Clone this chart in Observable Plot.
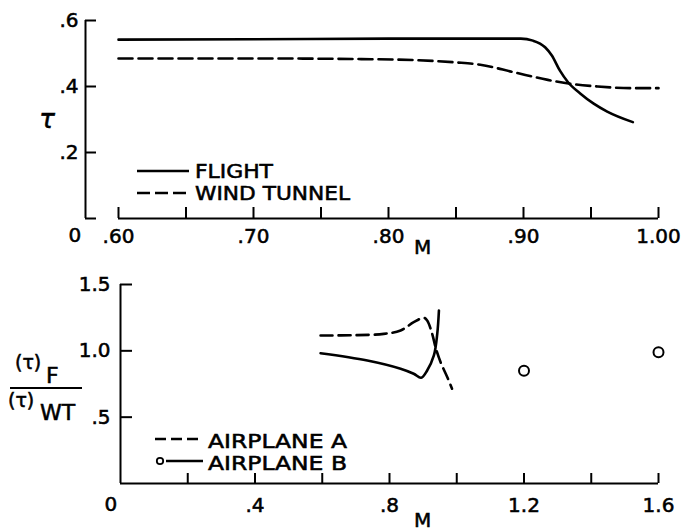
<!DOCTYPE html>
<html><head><meta charset="utf-8">
<script src="https://cdn.jsdelivr.net/npm/d3@7"></script>
<script src="https://cdn.jsdelivr.net/npm/@observablehq/plot@0.6"></script>
<style>
body{margin:0;background:#fff;}
#wrap{position:relative;width:685px;height:531px;overflow:hidden;background:#fff;font-family:"DejaVu Sans",sans-serif;}
#wrap svg{display:block;}
#wrap text{stroke:#000;stroke-width:0.55px;}
#overlay{position:absolute;left:0;top:0;pointer-events:none;}
</style></head><body><div id="wrap"></div>
<script>
// ---------- Top panel: tau vs M ----------
const topSeries = ["FLIGHT", "WIND TUNNEL"];
const flightM   = [0.60, 0.70, 0.80, 0.87, 0.898, 0.907, 0.916, 0.921, 0.927, 0.933, 0.942, 0.952, 0.962, 0.981];
const flightTau = [0.542, 0.543, 0.545, 0.545, 0.545, 0.539, 0.519, 0.494, 0.448, 0.413, 0.379, 0.348, 0.324, 0.292];
const tunnelM   = [0.60, 0.70, 0.78, 0.82, 0.85, 0.868, 0.893, 0.918, 0.935, 0.955, 0.979, 1.00];
const tunnelTau = [0.485, 0.485, 0.483, 0.480, 0.473, 0.466, 0.443, 0.420, 0.408, 0.400, 0.395, 0.395];
const topXTicks  = [0.60, 0.65, 0.70, 0.75, 0.80, 0.85, 0.90, 0.95, 1.00];
const topXLabels = [0.60, 0.70, 0.80, 0.90, 1.00];
const topYTicks  = [0, 0.2, 0.4, 0.6];
const topYLabels = [0.2, 0.4, 0.6];

// ---------- Bottom panel: (tau)F/(tau)WT vs M ----------
const botSeries = ["AIRPLANE A", "AIRPLANE B"];
const planeAM     = [0.595, 0.70, 0.783, 0.833, 0.872, 0.902, 0.912, 0.927, 0.937, 0.952, 0.972, 0.986];
const planeARatio = [1.116, 1.118, 1.128, 1.153, 1.216, 1.249, 1.229, 1.128, 1.027, 0.914, 0.801, 0.714];
const planeBM     = [0.595, 0.734, 0.833, 0.872, 0.894, 0.912, 0.932, 0.942, 0.947];
const planeBRatio = [0.982, 0.927, 0.865, 0.827, 0.797, 0.852, 0.965, 1.128, 1.304];
const planeBPointM     = [1.2, 1.6];
const planeBPointRatio = [0.85, 0.99];
const botXTicks  = [0.2, 0.4, 0.6, 0.8, 1.0, 1.2, 1.4, 1.6];
const botXLabels = [0.4, 0.8, 1.2, 1.6];
const botYTicks  = [0.5, 1.0, 1.5];
const botYLabels = [0.5, 1.0, 1.5];

const strip = s => s.replace(/^0(?=\.)/, "");
const zip = (xs, ys) => xs.map((x, i) => ({M: x, v: ys[i]}));
const FONT = "DejaVu Sans, sans-serif";
const style = {fontFamily: FONT, fontSize: "20px", color: "#000", background: "#fff", overflow: "visible"};

const topPlot = Plot.plot({
  width: 685, height: 262, marginLeft: 118, marginRight: 27, marginTop: 20, marginBottom: 44,
  x: {domain: [0.6, 1.0]}, y: {domain: [0, 0.6]}, style,
  marks: [
    Plot.ruleY([topYTicks[0]], {strokeWidth: 2}),
    Plot.ruleX([topXTicks[0]], {dx: -33, strokeWidth: 2}),
    Plot.tickX(topXTicks, {x: d => d, insetTop: 187, strokeWidth: 2}),
    Plot.tickY(topYTicks, {y: d => d, insetRight: 529, dx: -33, strokeWidth: 2}),
    Plot.axisX({ticks: topXLabels, tickSize: 0, tickPadding: 10, label: null, fontSize: 20, tickFormat: d => strip(d3.format(".2f")(d))}),
    Plot.axisY({ticks: topYLabels, tickSize: 0, tickPadding: 7, dx: -33, label: null, fontSize: 20, tickFormat: d => strip(d3.format(".1f")(d))}),
    Plot.text(["0"], {frameAnchor: "bottom-left", dx: -50, dy: 23, fontSize: 20}),
    Plot.text(["M"], {frameAnchor: "bottom", dx: 34, dy: 35, fontSize: 20}),
    Plot.line(zip(flightM, flightTau), {x: "M", y: "v", curve: "monotone-x", strokeWidth: 2.6}),
    Plot.line(zip(tunnelM, tunnelTau), {x: "M", y: "v", curve: "monotone-x", strokeWidth: 2.6, strokeDasharray: "14,6"})
  ]
});

const botPlot = Plot.plot({
  width: 685, height: 269, marginLeft: 120, marginRight: 27, marginTop: 22, marginBottom: 48,
  x: {domain: [0, 1.6]}, y: {domain: [0, 1.5]}, style,
  marks: [
    Plot.ruleY([0], {strokeWidth: 2}),
    Plot.ruleX([0], {strokeWidth: 2}),
    Plot.tickX(botXTicks, {x: d => d, insetTop: 189, strokeWidth: 2}),
    Plot.tickY(botYTicks, {y: d => d, insetRight: 526, strokeWidth: 2}),
    Plot.axisX({ticks: botXLabels, tickSize: 0, tickPadding: 14, label: null, fontSize: 20, tickFormat: d => strip(d3.format(".1f")(d))}),
    Plot.axisY({ticks: botYLabels, tickSize: 0, tickPadding: 10, label: null, fontSize: 20, tickFormat: d => strip(d3.format(".1f")(d))}),
    Plot.text(["0"], {frameAnchor: "bottom-left", dx: -16, dy: 27, fontSize: 20}),
    Plot.text(["M"], {frameAnchor: "bottom", dx: 33, dy: 43, fontSize: 20}),
    Plot.line(zip(planeAM, planeARatio), {x: "M", y: "v", curve: "catmull-rom", strokeWidth: 2.6, strokeDasharray: "12,6"}),
    Plot.line(zip(planeBM, planeBRatio), {x: "M", y: "v", curve: "catmull-rom", strokeWidth: 2.6}),
    Plot.dot(zip(planeBPointM, planeBPointRatio), {x: "M", y: "v", r: 5, stroke: "#000", strokeWidth: 2, fill: "#fff"})
  ]
});

const wrap = document.getElementById("wrap");
wrap.appendChild(topPlot);
wrap.appendChild(botPlot);

// ---------- Overlay: legends and y-axis titles ----------
const ov = d3.select(wrap).append("svg").attr("id", "overlay")
  .attr("width", 685).attr("height", 531)
  .style("font-family", FONT);

// top legend
const topLeg = [
  {name: topSeries[0], y: 170, dash: null, len: 78},
  {name: topSeries[1], y: 192, dash: "13,5", len: 155}
];
topLeg.forEach(d => {
  ov.append("line").attr("x1", 137).attr("x2", 189).attr("y1", d.y + 1).attr("y2", d.y + 1)
    .attr("stroke", "#000").attr("stroke-width", 2.4).attr("stroke-dasharray", d.dash);
  ov.append("text").attr("x", 195).attr("y", d.y + 7.5).attr("font-size", 19.5)
    .attr("textLength", d.len).attr("lengthAdjust", "spacingAndGlyphs").text(d.name);
});

// bottom legend
const botLeg = [
  {name: botSeries[0], y: 440, dash: "11,5", x1: 155},
  {name: botSeries[1], y: 462, dash: null, x1: 166}
];
botLeg.forEach(d => {
  ov.append("line").attr("x1", d.x1).attr("x2", 203).attr("y1", d.y - 1).attr("y2", d.y - 1)
    .attr("stroke", "#000").attr("stroke-width", 2.4).attr("stroke-dasharray", d.dash);
  ov.append("text").attr("x", 208).attr("y", d.y + 7.5).attr("font-size", 19.5)
    .attr("textLength", 139).attr("lengthAdjust", "spacingAndGlyphs").text(d.name);
});
ov.append("circle").attr("cx", 160).attr("cy", 461).attr("r", 3.2)
  .attr("fill", "#fff").attr("stroke", "#000").attr("stroke-width", 1.8);

// top y title
ov.append("text").attr("x", 47).attr("y", 128).attr("text-anchor", "middle")
  .attr("font-size", 26).attr("font-style", "italic").text("τ");

// bottom y title: (τ)F / (τ)WT
ov.append("text").attr("x", 15).attr("y", 369).attr("font-size", 19).text("(τ)");
ov.append("text").attr("x", 46).attr("y", 383).attr("font-size", 22).text("F");
ov.append("line").attr("x1", 10).attr("x2", 82).attr("y1", 388).attr("y2", 388)
  .attr("stroke", "#000").attr("stroke-width", 2);
ov.append("text").attr("x", 8).attr("y", 407).attr("font-size", 19).text("(τ)");
ov.append("text").attr("x", 40).attr("y", 420).attr("font-size", 22).text("WT");
</script>
</body></html>
